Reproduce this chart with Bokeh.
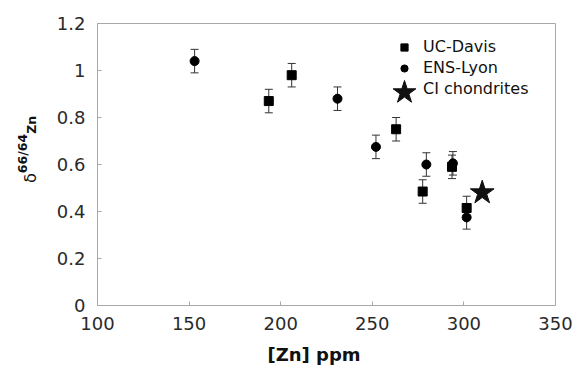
from bokeh.plotting import figure
from bokeh.layouts import row
from bokeh.models import (ColumnDataSource, Whisker, TeeHead, Legend, LegendItem, Range1d,
                          FixedTicker, Div)
from bokeh.embed import file_html
from bokeh.resources import INLINE

# ---- data ----
ucd_x = [193.5, 206, 263, 277.5, 293.5, 301.5]
ucd_y = [0.87, 0.98, 0.75, 0.485, 0.59, 0.415]
ucd_err = [0.05, 0.05, 0.05, 0.05, 0.05, 0.05]

ens_x = [153, 231, 252, 279.5, 294, 301.5]
ens_y = [1.04, 0.88, 0.675, 0.60, 0.605, 0.375]
ens_err = [0.05, 0.05, 0.05, 0.05, 0.05, 0.05]

ci_x = [310]
ci_y = [0.48]

x_ticks = [100, 150, 200, 250, 300, 350]
y_ticks = [0, 0.2, 0.4, 0.6, 0.8, 1.0, 1.2]
y_tick_labels = {0: "0", 0.2: "0.2", 0.4: "0.4", 0.6: "0.6", 0.8: "0.8", 1.0: "1", 1.2: "1.2"}

FONT = "DejaVu Sans"
GRAY = "#a8a8a8"
TXT = "#2a2a2a"
NB = "\u00a0"

# ---- y-axis title: δ^(66/64)Zn, rotated, in a narrow strip left of the chart ----
TW = 40
ytitle_html = (
    '<div style="position:relative;width:40px;height:369px;">'
    '<div style="position:absolute;left:23px;top:183px;transform-origin:0 0;'
    'transform:rotate(-90deg);white-space:nowrap;line-height:16px;color:#111;'
    "font-family:'DejaVu Sans';font-size:12.5px;font-weight:bold;\">"
    '<span style="font-weight:normal;font-size:16px;line-height:0;">δ</span>'
    '<span style="vertical-align:9px;line-height:0;">66/64</span>Zn'
    '</div></div>'
)
ytitle = Div(text=ytitle_html, width=TW, height=369, margin=0)

# ---- main chart ----
p = figure(width=587 - TW, height=369, output_backend="svg", toolbar_location=None,
           x_range=Range1d(100, 350), y_range=Range1d(0, 1.2),
           min_border_left=97 - TW, min_border_right=32, min_border_top=23, min_border_bottom=64)

p.xgrid.visible = False
p.ygrid.visible = False
p.outline_line_color = GRAY
p.outline_line_width = 1
p.background_fill_color = "white"
p.border_fill_color = "white"

for ax in (p.xaxis[0], p.yaxis[0]):
    ax.axis_line_color = GRAY
    ax.major_tick_line_color = GRAY
    ax.major_tick_in = 4
    ax.major_tick_out = 0
    ax.minor_tick_line_color = None
    ax.major_label_text_font = FONT
    ax.major_label_text_font_size = "18px"
    ax.major_label_text_color = TXT

p.xaxis.ticker = FixedTicker(ticks=x_ticks)
p.yaxis.ticker = FixedTicker(ticks=y_ticks)
p.yaxis.major_label_overrides = y_tick_labels
p.xaxis.major_label_standoff = 11
p.yaxis.major_label_standoff = 12

p.xaxis.axis_label = "[Zn] ppm" + NB * 4
p.xaxis.axis_label_text_font = FONT
p.xaxis.axis_label_text_font_size = "18px"
p.xaxis.axis_label_text_font_style = "bold"
p.xaxis.axis_label_text_color = "#111111"
p.xaxis.axis_label_standoff = 11

# error bars
ucd_src = ColumnDataSource(dict(x=ucd_x, y=ucd_y,
                                lo=[v - e for v, e in zip(ucd_y, ucd_err)],
                                hi=[v + e for v, e in zip(ucd_y, ucd_err)]))
ens_src = ColumnDataSource(dict(x=ens_x, y=ens_y,
                                lo=[v - e for v, e in zip(ens_y, ens_err)],
                                hi=[v + e for v, e in zip(ens_y, ens_err)]))
for src in (ucd_src, ens_src):
    w = Whisker(source=src, base="x", upper="hi", lower="lo", dimension="height",
                line_color="#333333", line_width=1,
                upper_head=TeeHead(size=8, line_color="#333333", line_width=1),
                lower_head=TeeHead(size=8, line_color="#333333", line_width=1))
    p.add_layout(w)

r_ucd = p.scatter("x", "y", source=ucd_src, marker="square", size=9,
                  fill_color="black", line_color="black")
r_ens = p.scatter("x", "y", source=ens_src, marker="circle", size=9,
                  fill_color="black", line_color="black")
r_ci = p.scatter(ci_x, ci_y, marker="star", size=25,
                 fill_color="#111111", line_color="#111111")
# invisible stand-in so that the "CI chondrites" label lines up with the other entries
r_blank = p.scatter(x=[], y=[], marker="star", size=1, fill_alpha=0, line_alpha=0)

leg_a = Legend(items=[LegendItem(label="UC-Davis", renderers=[r_ucd]),
                      LegendItem(label="ENS-Lyon", renderers=[r_ens]),
                      LegendItem(label="CI chondrites", renderers=[r_blank])],
               location=(298, 207), glyph_width=18, glyph_height=18, label_height=18,
               spacing=2, label_standoff=10, padding=0, margin=0,
               border_line_alpha=0, background_fill_alpha=0,
               label_text_font=FONT, label_text_font_size="16px", label_text_color="#111111")
leg_b = Legend(items=[LegendItem(label=NB, renderers=[r_ci])],
               location=(277, 183), glyph_width=60, glyph_height=60,
               label_standoff=0, padding=0, margin=0,
               border_line_alpha=0, background_fill_alpha=0,
               label_text_font=FONT, label_text_font_size="16px")
p.add_layout(leg_a)
p.add_layout(leg_b)

layout = row(ytitle, p, spacing=0)
open("out.html", "w").write(file_html(layout, INLINE))
